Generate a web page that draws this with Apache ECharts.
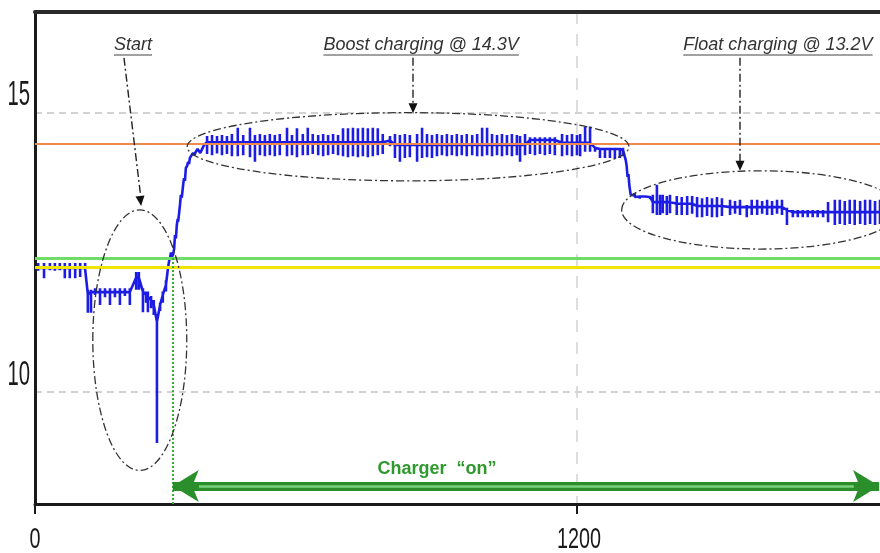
<!DOCTYPE html>
<html>
<head>
<meta charset="utf-8">
<script src="https://cdn.jsdelivr.net/npm/echarts@6/dist/echarts.min.js"></script>
<style>
html, body { margin: 0; padding: 0; background: #fff; }
#chart { width: 880px; height: 553px; }
</style>
</head>
<body>
<div id="chart"></div>
<script>
// Battery terminal voltage over a charge cycle (time in s, voltage in V)
const xTickValues = [0, 1200];
const yTickValues = [10, 15];
const xRange = [0, 1871];
const yRange = [8, 16.8];

// Reference levels
const boostLevel = 14.45;
const thresholdHigh = 12.40;
const thresholdLow = 12.23;
const chargerOnTime = 305;
const chargerOnLevel = 8.32;

// Ripple samples: [time, base, peak, trough]
const idleSpikes = [
  [7, 12.22, 12.31, 12.17], [20, 12.22, 12.31, 12.04], [33, 12.22, 12.31, 12.18],
  [44, 12.22, 12.31, 12.17], [55, 12.22, 12.31, 12.18], [66, 12.22, 12.31, 12.04],
  [77, 12.22, 12.31, 12.04], [89, 12.22, 12.31, 12.04], [100, 12.22, 12.31, 12.06],
  [111, 12.22, 12.31, 12.20]
];
const startSpikes = [
  [117, 11.75, 11.83, 11.42], [124, 11.79, 11.83, 11.42], [133, 11.79, 11.86, 11.74],
  [144, 11.79, 11.86, 11.56], [155, 11.79, 11.86, 11.70], [166, 11.79, 11.86, 11.56],
  [177, 11.79, 11.86, 11.70], [188, 11.79, 11.86, 11.56], [199, 11.79, 11.86, 11.72],
  [210, 11.79, 11.86, 11.56], [224, 12.05, 12.15, 11.83], [230, 12.05, 12.15, 11.83],
  [239, 11.80, 11.86, 11.43], [246, 11.74, 11.80, 11.60], [250, 11.70, 11.80, 11.43],
  [257, 11.65, 11.72, 11.50], [263, 11.56, 11.65, 11.38], [270, 11.26, 11.40, 9.09],
  [277, 11.56, 11.60, 11.45], [283, 11.74, 11.80, 11.60], [290, 11.92, 12.00, 11.80]
];
// Plain samples: [time, volts]
const riseTrace = [
  [294, 12.19], [297, 12.35], [299, 12.40], [301, 12.50], [303, 12.42], [306, 12.47],
  [308, 12.56], [310, 12.81], [312, 12.75], [314, 12.99], [316, 13.10], [317, 13.05],
  [319, 13.20], [321, 13.35], [323, 13.53], [325, 13.48], [328, 13.71], [330, 13.83],
  [332, 13.78], [334, 14.01], [337, 14.05], [339, 14.12], [341, 14.08], [343, 14.19],
  [346, 14.22], [350, 14.28], [353, 14.24], [356, 14.30], [360, 14.35], [363, 14.33],
  [366, 14.28], [370, 14.30], [373, 14.40], [376, 14.44]
];
const boostSpikes = [
  [381, 14.47, 14.58, 14.26], [392, 14.47, 14.60, 14.24], [403, 14.47, 14.58, 14.27],
  [414, 14.47, 14.60, 14.24], [425, 14.47, 14.58, 14.26], [436, 14.47, 14.62, 14.22],
  [449, 14.47, 14.73, 14.22], [461, 14.47, 14.60, 14.24], [476, 14.47, 14.73, 14.20],
  [487, 14.47, 14.60, 14.12], [498, 14.47, 14.62, 14.24], [509, 14.47, 14.60, 14.22],
  [520, 14.47, 14.62, 14.24], [531, 14.47, 14.60, 14.22], [542, 14.47, 14.62, 14.24],
  [558, 14.47, 14.73, 14.22], [569, 14.47, 14.60, 14.24], [580, 14.47, 14.72, 14.20],
  [593, 14.47, 14.62, 14.24], [604, 14.47, 14.73, 14.24], [615, 14.47, 14.62, 14.26],
  [627, 14.47, 14.60, 14.24], [638, 14.47, 14.62, 14.22], [649, 14.47, 14.60, 14.24],
  [660, 14.47, 14.62, 14.26], [671, 14.47, 14.60, 14.24], [682, 14.47, 14.72, 14.22],
  [693, 14.47, 14.72, 14.20], [704, 14.47, 14.73, 14.22], [715, 14.47, 14.72, 14.20],
  [726, 14.47, 14.73, 14.22], [737, 14.47, 14.72, 14.20], [748, 14.47, 14.73, 14.22],
  [759, 14.47, 14.72, 14.24], [770, 14.47, 14.62, 14.26], [786, 14.50, 14.58, 14.40],
  [797, 14.42, 14.62, 14.19], [808, 14.42, 14.60, 14.12], [819, 14.42, 14.62, 14.19],
  [830, 14.42, 14.60, 14.20], [846, 14.42, 14.62, 14.12], [857, 14.42, 14.73, 14.19],
  [868, 14.42, 14.62, 14.20], [879, 14.42, 14.60, 14.19], [890, 14.42, 14.62, 14.22],
  [901, 14.42, 14.60, 14.24], [912, 14.42, 14.62, 14.22], [923, 14.42, 14.60, 14.24],
  [934, 14.42, 14.62, 14.22], [945, 14.42, 14.60, 14.24], [956, 14.42, 14.62, 14.22],
  [968, 14.42, 14.60, 14.24], [979, 14.42, 14.62, 14.22], [990, 14.42, 14.73, 14.22],
  [1001, 14.42, 14.73, 14.24], [1012, 14.42, 14.62, 14.22], [1023, 14.42, 14.60, 14.24],
  [1034, 14.42, 14.62, 14.22], [1045, 14.42, 14.60, 14.24], [1056, 14.42, 14.62, 14.22],
  [1067, 14.42, 14.60, 14.24], [1074, 14.42, 14.58, 14.12], [1085, 14.42, 14.62, 14.24],
  [1096, 14.51, 14.56, 14.26], [1107, 14.51, 14.56, 14.24], [1118, 14.51, 14.56, 14.26],
  [1129, 14.51, 14.56, 14.24], [1140, 14.51, 14.56, 14.26], [1151, 14.51, 14.56, 14.24],
  [1167, 14.46, 14.62, 14.22], [1178, 14.46, 14.60, 14.24], [1189, 14.46, 14.62, 14.22],
  [1200, 14.46, 14.60, 14.24], [1207, 14.46, 14.62, 14.22], [1218, 14.46, 14.75, 14.30],
  [1229, 14.46, 14.75, 14.30], [1240, 14.37, 14.40, 14.30], [1251, 14.35, 14.37, 14.19],
  [1262, 14.35, 14.37, 14.19], [1273, 14.35, 14.37, 14.19], [1284, 14.35, 14.37, 14.17],
  [1295, 14.35, 14.37, 14.19], [1302, 14.33, 14.37, 14.22]
];
const dropTrace = [
  [1306, 14.30], [1308, 14.15], [1310, 14.05], [1312, 13.85], [1314, 13.90],
  [1316, 13.70], [1319, 13.53]
];
const floatSpikes = [
  [1328, 13.52, 13.56, 13.49], [1339, 13.50, 13.53, 13.46], [1350, 13.50, 13.53, 13.47],
  [1362, 13.49, 13.52, 13.45], [1368, 13.40, 13.53, 13.20], [1377, 13.40, 13.71, 13.17],
  [1384, 13.40, 13.53, 13.17], [1390, 13.40, 13.53, 13.20], [1399, 13.40, 13.51, 13.17],
  [1406, 13.40, 13.53, 13.20], [1421, 13.37, 13.51, 13.17], [1432, 13.37, 13.49, 13.17],
  [1444, 13.37, 13.51, 13.17], [1455, 13.37, 13.51, 13.19], [1466, 13.33, 13.49, 13.13],
  [1477, 13.33, 13.47, 13.13], [1488, 13.33, 13.49, 13.15], [1499, 13.33, 13.47, 13.13],
  [1510, 13.33, 13.49, 13.13], [1521, 13.33, 13.47, 13.15], [1539, 13.31, 13.44, 13.17],
  [1550, 13.31, 13.42, 13.19], [1561, 13.31, 13.44, 13.17], [1576, 13.31, 13.35, 13.13],
  [1587, 13.31, 13.44, 13.17], [1599, 13.31, 13.44, 13.17], [1610, 13.31, 13.42, 13.19],
  [1621, 13.31, 13.44, 13.17], [1632, 13.31, 13.42, 13.17], [1643, 13.31, 13.44, 13.19],
  [1654, 13.31, 13.44, 13.17], [1665, 13.26, 13.30, 12.99], [1678, 13.22, 13.26, 13.13],
  [1689, 13.22, 13.26, 13.13], [1700, 13.22, 13.26, 13.13], [1711, 13.22, 13.26, 13.13],
  [1722, 13.22, 13.26, 13.13], [1733, 13.22, 13.26, 13.13], [1745, 13.22, 13.26, 13.13],
  [1756, 13.22, 13.40, 13.04], [1771, 13.22, 13.44, 12.99], [1782, 13.22, 13.44, 13.01],
  [1793, 13.22, 13.42, 12.99], [1804, 13.22, 13.44, 13.01], [1815, 13.22, 13.44, 12.99],
  [1827, 13.22, 13.42, 13.01], [1838, 13.22, 13.44, 12.99], [1849, 13.22, 13.44, 13.01],
  [1860, 13.22, 13.42, 12.99], [1871, 13.22, 13.44, 13.01]
];

// Phase call-outs, placed in data space: label anchor, leader line, ring [cx, cy, rx, ry]
const callouts = [
  { text: 'Start', at: [217, 16.21], from: [197, 15.98], to: [235, 13.33], ring: [232, 10.93, 104, 2.33] },
  { text: 'Boost charging @ 14.3V', at: [855, 16.21], from: [837, 15.98], to: [837, 14.99], ring: [826, 14.39, 489, 0.61] },
  { text: 'Float charging @ 13.2V', at: [1645, 16.21], from: [1561, 15.98], to: [1561, 13.96], ring: [1607, 13.26, 308, 0.70] }
];
const chargerLabel = { text: 'Charger  \u201Con\u201D', at: [890, 8.63] };

// Expand each ripple sample into a vertical stroke on the trace
function ripple(list) {
  const out = [];
  list.forEach(([t, base, hi, lo]) => {
    out.push([t, base], [t, hi], [t, lo], [t, base]);
  });
  return out;
}
const trace = [[0, 12.22]].concat(
  ripple(idleSpikes), ripple(startSpikes), riseTrace,
  ripple(boostSpikes), dropTrace, ripple(floatSpikes)
);

const option = {
  animation: false,
  backgroundColor: '#ffffff',
  grid: { left: 35, right: 0, top: 12, bottom: 49 },
  xAxis: [{
    type: 'value',
    min: xRange[0], max: xRange[1],
    axisLine: { show: true, lineStyle: { color: '#1a1a1a', width: 3 } },
    axisTick: { show: true, customValues: xTickValues, length: 10, lineStyle: { color: '#1a1a1a', width: 2 } },
    axisLabel: { show: false, customValues: xTickValues },
    splitLine: { show: true, lineStyle: { color: '#d2d2d2', width: 1.5, type: [12, 10] } }
  }, {
    type: 'value',
    position: 'top',
    min: xRange[0], max: xRange[1],
    axisLine: { show: true, lineStyle: { color: '#2a2a2a', width: 4 } },
    axisTick: { show: false },
    axisLabel: { show: false },
    splitLine: { show: false }
  }],
  yAxis: {
    type: 'value',
    min: yRange[0], max: yRange[1],
    axisLine: { show: true, lineStyle: { color: '#1a1a1a', width: 3 } },
    axisTick: { show: false, customValues: yTickValues },
    axisLabel: { show: false, customValues: yTickValues },
    splitLine: { show: true, lineStyle: { color: '#d2d2d2', width: 2, type: [7, 5] } }
  },
  series: [{
    name: 'Voltage',
    type: 'line',
    data: trace,
    showSymbol: false,
    z: 3,
    lineStyle: { color: '#1c1ce4', width: 2.6 }
  }, {
    name: 'Levels',
    type: 'line',
    data: [],
    z: 4,
    markLine: {
      silent: true,
      symbol: 'none',
      animation: false,
      label: { show: false },
      data: [
        { yAxis: boostLevel, lineStyle: { color: '#f08a4c', width: 2, type: 'solid' } },
        { yAxis: thresholdHigh, lineStyle: { color: '#6fdc6a', width: 3, type: 'solid' } },
        { yAxis: thresholdLow, lineStyle: { color: '#eee600', width: 3, type: 'solid' } },
        [
          { coord: [chargerOnTime, thresholdHigh], lineStyle: { color: '#33b033', width: 2, type: 'dotted' } },
          { coord: [chargerOnTime, yRange[0]] }
        ]
      ]
    }
  }, {
    name: 'Charger on',
    type: 'line',
    data: [],
    z: 5,
    markLine: {
      silent: true,
      animation: false,
      label: { show: false },
      symbol: ['arrow', 'arrow'],
      symbolSize: [24, 26],
      data: [
        [
          { coord: [chargerOnTime, chargerOnLevel], lineStyle: { color: '#2a8f2a', width: 9, type: 'solid' }, itemStyle: { color: '#1f8a1f' } },
          { coord: [xRange[1] - 2, chargerOnLevel] }
        ]
      ]
    }
  }, {
    name: 'Charger on core',
    type: 'line',
    data: [],
    z: 6,
    markLine: {
      silent: true,
      animation: false,
      label: { show: false },
      symbol: 'none',
      data: [
        [
          { coord: [chargerOnTime + 58, chargerOnLevel], lineStyle: { color: '#7ccf7c', width: 2.5, type: 'solid' } },
          { coord: [xRange[1] - 58, chargerOnLevel] }
        ]
      ]
    }
  }]
};

const chart = echarts.init(document.getElementById('chart'), null, { renderer: 'canvas' });
chart.setOption(option);

const P = (pt) => chart.convertToPixel({ xAxisIndex: 0, yAxisIndex: 0 }, pt);
const elements = [];

// Tall, narrow tick numerals
const tickFont = '"Liberation Sans", Arial, sans-serif';
yTickValues.forEach((v) => {
  const [, py] = P([0, v]);
  elements.push({
    type: 'text', x: 30, y: py - 17, scaleX: 0.58, z: 20,
    style: { text: String(v), x: 0, y: 0, font: '35px ' + tickFont, fill: '#1a1a1a', align: 'right', verticalAlign: 'middle' }
  });
});
xTickValues.forEach((t) => {
  const [px] = P([t, yRange[0]]);
  elements.push({
    type: 'text', x: px + (t === 0 ? 0 : 2), y: 540, scaleX: 0.66, z: 20,
    style: { text: String(t), x: 0, y: 0, font: '30px ' + tickFont, fill: '#1a1a1a', align: 'center', verticalAlign: 'middle' }
  });
});

// Call-outs: labels, underlines, dash-dot leaders and rings
const noteFont = 'italic 18px "Liberation Sans", Arial, sans-serif';
const measure = document.createElement('canvas').getContext('2d');
measure.font = noteFont;
const dashDot = [8, 3, 2, 3];
const ink = '#333333';

callouts.forEach((c) => {
  const [lx, ly] = P(c.at);
  const w = measure.measureText(c.text).width;
  elements.push({
    type: 'text', z: 20,
    style: { text: c.text, x: lx, y: ly, font: noteFont, fill: '#333', align: 'center', verticalAlign: 'middle' }
  });
  elements.push({
    type: 'line', z: 20,
    shape: { x1: lx - w / 2, y1: ly + 10, x2: lx + w / 2, y2: ly + 10 },
    style: { stroke: '#444', lineWidth: 1.2 }
  });
  const [fx, fy] = P(c.from);
  const [tx, ty] = P(c.to);
  elements.push({
    type: 'line', z: 20,
    shape: { x1: fx, y1: fy, x2: tx, y2: ty - 6 },
    style: { stroke: '#222', lineWidth: 1.4, lineDash: dashDot }
  });
  const ang = Math.atan2(ty - fy, tx - fx);
  const len = 10, half = 4.5;
  const bx = tx - Math.cos(ang) * len, by = ty - Math.sin(ang) * len;
  elements.push({
    type: 'polygon', z: 20,
    shape: { points: [[tx, ty], [bx - Math.sin(ang) * half, by + Math.cos(ang) * half], [bx + Math.sin(ang) * half, by - Math.cos(ang) * half]] },
    style: { fill: '#111' }
  });
  const [cx, cy] = P([c.ring[0], c.ring[1]]);
  const [ex] = P([c.ring[0] + c.ring[2], c.ring[1]]);
  const [, ey] = P([c.ring[0], c.ring[1] + c.ring[3]]);
  elements.push({
    type: 'ellipse', z: 19,
    shape: { cx: cx, cy: cy, rx: Math.abs(ex - cx), ry: Math.abs(cy - ey) },
    style: { fill: 'none', stroke: ink, lineWidth: 1.3, lineDash: dashDot }
  });
});

const [gx, gy] = P(chargerLabel.at);
elements.push({
  type: 'text', z: 20,
  style: { text: chargerLabel.text, x: gx, y: gy, font: 'bold 18px "Liberation Sans", Arial, sans-serif', fill: '#2e9a2e', align: 'center', verticalAlign: 'middle' }
});

chart.setOption({ graphic: { elements: elements } });
</script>
</body>
</html>
